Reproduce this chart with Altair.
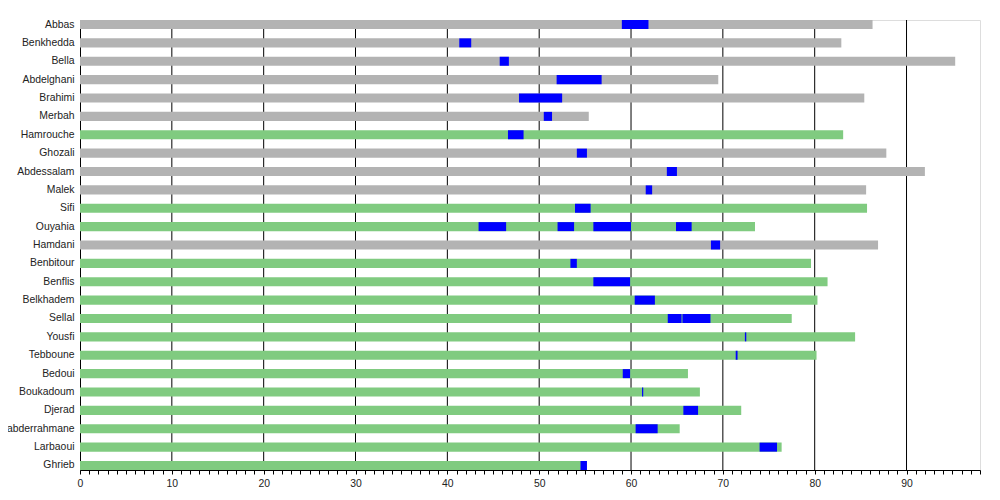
import altair as alt
import pandas as pd

names = ["Abbas", "Benkhedda", "Bella", "Abdelghani", "Brahimi", "Merbah",
         "Hamrouche", "Ghozali", "Abdessalam", "Malek", "Sifi", "Ouyahia",
         "Hamdani", "Benbitour", "Benflis", "Belkhadem", "Sellal", "Yousfi",
         "Tebboune", "Bedoui", "Boukadoum", "Djerad", "Benabderrahmane",
         "Larbaoui", "Ghrieb"]
life_end = [86.3, 82.9, 95.3, 69.5, 85.4, 55.4, 83.1, 87.8, 92.0, 85.6,
            85.7, 73.5, 86.9, 79.6, 81.4, 80.3, 77.5, 84.4, 80.2, 66.2,
            67.5, 72.0, 65.3, 76.4, 55.2]
alive = [False, False, False, False, False, False, True, False, False, False,
         True, True, False, True, True, True, True, True, True, True,
         True, True, True, True, True]

term_name = ["Abbas", "Benkhedda", "Bella", "Abdelghani", "Brahimi", "Merbah",
             "Hamrouche", "Ghozali", "Abdessalam", "Malek", "Sifi",
             "Ouyahia", "Ouyahia", "Ouyahia", "Ouyahia",
             "Hamdani", "Benbitour", "Benflis", "Belkhadem",
             "Sellal", "Sellal", "Yousfi", "Tebboune", "Bedoui", "Boukadoum",
             "Djerad", "Benabderrahmane", "Larbaoui", "Ghrieb"]
term_start = [59.0, 41.3, 45.7, 51.9, 47.8, 50.5, 46.6, 54.1, 63.9, 61.6, 53.9,
              43.4, 52.0, 55.9, 64.9,
              68.7, 53.4, 55.9, 60.4,
              64.0, 65.6, 72.4, 71.4, 59.1, 61.2,
              65.7, 60.5, 74.0, 54.5]
term_end = [61.9, 42.6, 46.7, 56.8, 52.5, 51.4, 48.3, 55.2, 65.0, 62.3, 55.6,
            46.4, 53.8, 60.0, 66.6,
            69.7, 54.1, 59.9, 62.6,
            65.5, 68.65, 72.55, 71.6, 59.9, 61.33,
            67.3, 62.9, 75.9, 55.2]

grid_at = [10, 20, 30, 40, 50, 60, 70, 80, 90]
tick_values = list(range(0, 99))

life_df = pd.DataFrame({
    "name": names,
    "start": [0.0] * len(names),
    "end": life_end,
    "status": ["alive" if a else "dead" for a in alive],
})
term_df = pd.DataFrame({"name": term_name, "start": term_start, "end": term_end})
grid_df = pd.DataFrame({"g": grid_at})

FONT = "Liberation Sans"

xscale = alt.Scale(domain=[0, 98], nice=False, zero=False)
yscale = alt.Scale(domain=names, paddingInner=0.51, paddingOuter=0)

x_axis = alt.Axis(values=tick_values, grid=False, title=None,
                  labelExpr="datum.value % 10 === 0 ? datum.label : ''",
                  domainColor="black", tickColor="black", tickSize=4,
                  labelFont=FONT, labelFontSize=10.4, labelColor="#222",
                  labelPadding=4, labelFlush=False)
y_axis = alt.Axis(title=None, ticks=False, domainColor="black",
                  labelFont=FONT, labelFontSize=10.4, labelColor="#222",
                  labelPadding=6, labelLimit=0)

grid = alt.Chart(grid_df).mark_rule(color="black", strokeWidth=1).encode(
    x=alt.X("g:Q", scale=xscale, axis=x_axis)
)

life = alt.Chart(life_df).mark_bar().encode(
    x=alt.X("start:Q", scale=xscale, axis=x_axis),
    x2="end:Q",
    y=alt.Y("name:N", scale=yscale, axis=y_axis, sort=names),
    color=alt.Color("status:N",
                    scale=alt.Scale(domain=["dead", "alive"],
                                    range=["#b3b3b3", "#80cb80"]),
                    legend=None),
)

terms = alt.Chart(term_df).mark_bar(color="#0000ff").encode(
    x=alt.X("start:Q", scale=xscale, axis=x_axis),
    x2="end:Q",
    y=alt.Y("name:N", scale=yscale, axis=y_axis, sort=names),
)

chart = alt.layer(grid, life, terms).properties(
    width=900, height=450,
    autosize=alt.AutoSizeParams(type="none"),
    padding={"left": 72, "top": 12, "right": 12, "bottom": 25},
).configure_view(stroke=None).configure(background="white")

chart.save("out.html", embed_options={"renderer": "svg", "actions": False})
